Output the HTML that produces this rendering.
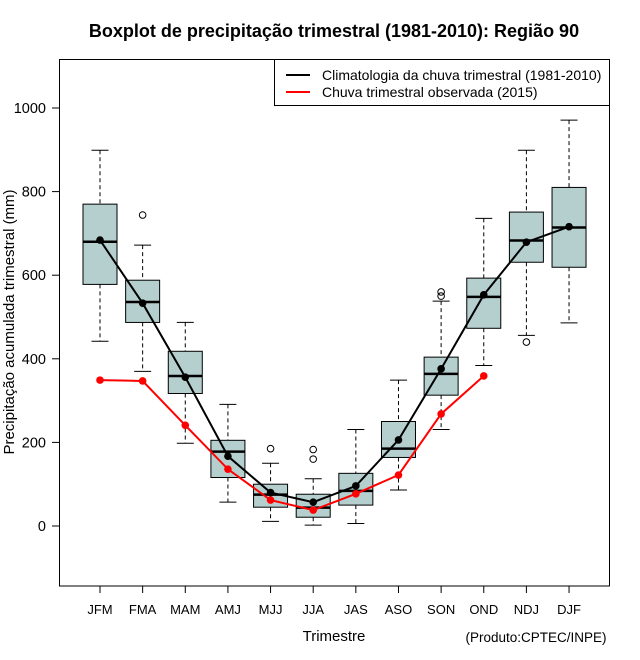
<!DOCTYPE html>
<html><head><meta charset="utf-8"><style>
body{margin:0;background:#fff}
svg{display:block;font-family:"Liberation Sans",sans-serif}
</style></head><body>
<svg id="chart" width="640" height="660" xmlns="http://www.w3.org/2000/svg">
<text x="334" y="37" text-anchor="middle" font-weight="bold" font-size="18">Boxplot de precipitação trimestral (1981-2010): Região 90</text>
<rect x="59.5" y="59.5" width="550" height="526.5" fill="none" stroke="#000" stroke-width="1"/>
<g id="boxes"></g>
<g id="lines"></g>
<g id="axes"></g>
<g>
<rect x="274.5" y="59.5" width="335" height="46" fill="#fff" stroke="#000"/>
<line x1="286" y1="75" x2="310" y2="75" stroke="#000" stroke-width="2"/>
<text x="322" y="80" font-size="14">Climatologia da chuva trimestral (1981-2010)</text>
<line x1="286" y1="92" x2="310" y2="92" stroke="#f00" stroke-width="2"/>
<text x="322" y="97" font-size="14">Chuva trimestral observada (2015)</text>
</g>
<text x="334" y="641" text-anchor="middle" font-size="15">Trimestre</text>
<text x="536" y="642" text-anchor="middle" font-size="13.5">(Produto:CPTEC/INPE)</text>
<text transform="translate(14,322) rotate(-90)" text-anchor="middle" font-size="15">Precipitação acumulada trimestral (mm)</text>
</svg>
<script>
const categories=["JFM","FMA","MAM","AMJ","MJJ","JJA","JAS","ASO","SON","OND","NDJ","DJF"];
const whiskerLow=[442,370,198,57,11,2,6,86,231,384,456,486];
const q1=[578,487,317,116,45,21,50,164,313,473,631,619];
const medians=[680,536,359,178,75,44,84,185,364,548,683,714];
const q3=[770,588,418,205,100,76,126,250,404,593,751,810];
const whiskerHigh=[899,672,487,291,150,113,231,349,538,736,899,971];
const outliers=[[],[744],[],[],[185],[183,160],[],[],[560,550],[],[440],[]];
const climatology=[684,533,356,167,80,57,96,206,376,553,679,716];
const observed=[349,347,241,136,62,38,77,122,268,359];
const yTicks=[0,200,400,600,800,1000];
const NS="http://www.w3.org/2000/svg";
function xs(i){return 100+i*42.64;}
function ys(v){return 526-v*0.418;}
function mk(parent,tag,attrs){const e=document.createElementNS(NS,tag);for(const k in attrs)e.setAttribute(k,attrs[k]);parent.appendChild(e);return e;}
const boxes=document.getElementById('boxes'),lines=document.getElementById('lines'),axes=document.getElementById('axes');
categories.forEach((c,i)=>{
  const x=xs(i);
  const g=mk(boxes,'g',{});
  
  
  mk(g,'line',{x1:x,x2:x,y1:ys(whiskerHigh[i]),y2:ys(q3[i]),stroke:'#000','stroke-dasharray':'4,3'});
  mk(g,'line',{x1:x,x2:x,y1:ys(q1[i]),y2:ys(whiskerLow[i]),stroke:'#000','stroke-dasharray':'4,3'});
  mk(g,'line',{x1:x-8.5,x2:x+8.5,y1:ys(whiskerHigh[i]),y2:ys(whiskerHigh[i]),stroke:'#000'});
  mk(g,'line',{x1:x-8.5,x2:x+8.5,y1:ys(whiskerLow[i]),y2:ys(whiskerLow[i]),stroke:'#000'});
  mk(g,'rect',{x:x-17,y:ys(q3[i]),width:34,height:ys(q1[i])-ys(q3[i]),fill:'#b5cfcf',stroke:'#000'});
  mk(g,'line',{x1:x-17,x2:x+17,y1:ys(medians[i]),y2:ys(medians[i]),stroke:'#000','stroke-width':2.5});
  outliers[i].forEach(v=>{const o=mk(g,'circle',{cx:x,cy:ys(v),r:3.3,fill:'none',stroke:'#000'});
    
    });
  const t=mk(axes,'text',{x:x,y:614,'text-anchor':'middle','font-size':'13'});t.textContent=c;
  
  
  mk(axes,'line',{x1:x,x2:x,y1:586,y2:593,stroke:'#000'});
});
yTicks.forEach(v=>{
  mk(axes,'line',{x1:52,x2:59.5,y1:ys(v),y2:ys(v),stroke:'#000'});
  const t=mk(axes,'text',{x:46,y:ys(v)+5,'text-anchor':'end','font-size':'14.5'});t.textContent=v;
  
  
});
function series(vals,color,name){
  const p=mk(lines,'polyline',{points:vals.map((v,i)=>xs(i)+','+ys(v)).join(' '),fill:'none',stroke:color,'stroke-width':2});
  
  
  vals.forEach((v,i)=>{const d=mk(lines,'circle',{cx:xs(i),cy:ys(v),r:3.8,fill:color});
    
    });
}
series(observed,'#f00','observed');
series(climatology,'#000','climatology');
</script>
</body></html>
